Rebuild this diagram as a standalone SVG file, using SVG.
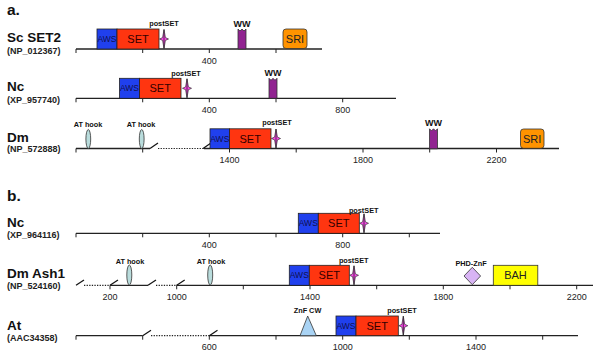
<svg xmlns="http://www.w3.org/2000/svg" width="600" height="357" viewBox="0 0 600 357">
<style>
text{font-family:"Liberation Sans",Arial,sans-serif;fill:#111}
.sec{font-size:15.5px;font-weight:bold}
.name{font-size:13.5px;font-weight:bold}
.acc{font-size:9px;font-weight:bold;fill:#222}
.num{font-size:9px;text-anchor:middle;fill:#222}
.ftl{font-size:7.3px;font-weight:bold;text-anchor:middle}
.wwl{font-size:9px;font-weight:bold;text-anchor:middle}
.axis{stroke:#222;stroke-width:1.3;fill:none}
.dot{stroke:#222;stroke-width:1.2;stroke-dasharray:1.3 1.3;fill:none}
.tick{stroke:#222;stroke-width:1}
.sl{stroke:#111;stroke-width:1.2}
.aws{fill:#2040ee;stroke:#222;stroke-width:0.8}
.set{fill:#ff3510;stroke:#222;stroke-width:0.8}
.awst{font-size:8.5px;fill:#101050;text-anchor:middle}
.sett{font-size:11px;fill:#300;text-anchor:middle}
.star{fill:#ff44ee;stroke:#333;stroke-width:0.7}
.ww{fill:#912391;stroke:#333;stroke-width:0.8}
.sri{fill:#ff9300;stroke:#333;stroke-width:0.8}
.domt{font-size:11px;fill:#222;text-anchor:middle}
.at{fill:#b9dcdc;stroke:#333;stroke-width:0.8}
</style>
<defs>
<g id="star"><path class="star" d="M0,-9.5 L1.4,-1.4 L4.5,0 L1.4,1.4 L0,9.5 L-1.4,1.4 L-4.5,0 L-1.4,-1.4 Z"/><line x1="0" y1="-9.5" x2="0" y2="9.5" stroke="#222" stroke-width="0.8"/></g>
<path id="ww" d="M0,20 L0,0 L2,2 L4,0 L6,2 L8,0 L8,20 Z"/>
</defs>

<text class="sec" x="7" y="15">a.</text>
<text class="sec" x="7" y="201">b.</text>

<g id="sc-set2">
<text class="name" x="7" y="42">Sc SET2</text>
<text class="acc" x="7" y="54">(NP_012367)</text>
<line class="axis" x1="76" y1="49" x2="322" y2="49"/>
<g class="tick"><line x1="76" y1="49" x2="76" y2="53"/><line x1="142.7" y1="49" x2="142.7" y2="53"/><line x1="209.3" y1="49" x2="209.3" y2="53"/><line x1="276" y1="49" x2="276" y2="53"/></g>
<text class="num" x="209.3" y="63.5">400</text>
<rect class="aws" x="97" y="29" width="20" height="20"/><text class="awst" x="107" y="42">AWS</text>
<rect class="set" x="117" y="29" width="42" height="20"/><text class="sett" x="138" y="43">SET</text>
<use href="#star" x="164" y="39"/>
<text class="ftl" x="164" y="26">postSET</text>
<use href="#ww" class="ww" x="238" y="29"/>
<text class="wwl" x="242" y="26.5">WW</text>
<rect class="sri" x="283" y="29" width="24" height="19.5" rx="3"/><text class="domt" x="295" y="42.5">SRI</text>
</g>

<g id="nc-a">
<text class="name" x="7" y="91">Nc</text>
<text class="acc" x="7" y="102.5">(XP_957740)</text>
<line class="axis" x1="76" y1="98.3" x2="396" y2="98.3"/>
<g class="tick"><line x1="76" y1="98.3" x2="76" y2="102.3"/><line x1="142.7" y1="98.3" x2="142.7" y2="102.3"/><line x1="209.3" y1="98.3" x2="209.3" y2="102.3"/><line x1="276" y1="98.3" x2="276" y2="102.3"/><line x1="342.7" y1="98.3" x2="342.7" y2="102.3"/></g>
<text class="num" x="209.3" y="112.5">400</text>
<text class="num" x="342.7" y="112.5">800</text>
<rect class="aws" x="119.5" y="78.3" width="20" height="20"/><text class="awst" x="129.5" y="91.3">AWS</text>
<rect class="set" x="139.5" y="78.3" width="41.5" height="20"/><text class="sett" x="160.2" y="92.3">SET</text>
<use href="#star" x="187" y="88.3"/>
<text class="ftl" x="186" y="75.5">postSET</text>
<use href="#ww" class="ww" x="269" y="78.3"/>
<text class="wwl" x="273" y="76">WW</text>
</g>

<g id="dm-a">
<text class="name" x="7" y="141.7">Dm</text>
<text class="acc" x="7" y="152">(NP_572888)</text>
<line class="axis" x1="76" y1="148.5" x2="150" y2="148.5"/>
<line class="dot" x1="158" y1="148.5" x2="204" y2="148.5"/>
<line class="axis" x1="204" y1="148.5" x2="559" y2="148.5"/>
<line class="sl" x1="150" y1="148.5" x2="158" y2="143"/>
<line class="sl" x1="203" y1="148.5" x2="211" y2="143"/>
<g class="tick"><line x1="76" y1="148.5" x2="76" y2="152.5"/><line x1="142.7" y1="148.5" x2="142.7" y2="152.5"/><line x1="229.5" y1="148.5" x2="229.5" y2="152.5"/><line x1="296.2" y1="148.5" x2="296.2" y2="152.5"/><line x1="363" y1="148.5" x2="363" y2="152.5"/><line x1="429.7" y1="148.5" x2="429.7" y2="152.5"/><line x1="496.5" y1="148.5" x2="496.5" y2="152.5"/></g>
<text class="num" x="229.5" y="163">1400</text>
<text class="num" x="363" y="163">1800</text>
<text class="num" x="496.5" y="163">2200</text>
<ellipse class="at" cx="88.3" cy="139" rx="2.4" ry="9.5"/>
<text class="ftl" x="88" y="126.5">AT hook</text>
<ellipse class="at" cx="141.7" cy="139" rx="2.4" ry="9.5"/>
<text class="ftl" x="141" y="126.5">AT hook</text>
<rect class="aws" x="210" y="128.8" width="19.5" height="19.7"/><text class="awst" x="219.8" y="141.8">AWS</text>
<rect class="set" x="229.5" y="128.8" width="41.5" height="19.7"/><text class="sett" x="250.2" y="142.8">SET</text>
<use href="#star" x="276" y="138.5"/>
<text class="ftl" x="277" y="125">postSET</text>
<use href="#ww" class="ww" x="429.5" y="128.8"/>
<text class="wwl" x="433.5" y="125.5">WW</text>
<rect class="sri" x="520.5" y="129" width="23.5" height="19.3" rx="3"/><text class="domt" x="532.2" y="142.5">SRI</text>
</g>

<g id="nc-b">
<text class="name" x="7" y="226.7">Nc</text>
<text class="acc" x="7" y="238">(XP_964116)</text>
<line class="axis" x1="76" y1="233.3" x2="440" y2="233.3"/>
<g class="tick"><line x1="76" y1="233.3" x2="76" y2="237.3"/><line x1="142.7" y1="233.3" x2="142.7" y2="237.3"/><line x1="209.3" y1="233.3" x2="209.3" y2="237.3"/><line x1="276" y1="233.3" x2="276" y2="237.3"/><line x1="342.7" y1="233.3" x2="342.7" y2="237.3"/><line x1="409.3" y1="233.3" x2="409.3" y2="237.3"/></g>
<text class="num" x="209.3" y="248">400</text>
<text class="num" x="342.7" y="248">800</text>
<rect class="aws" x="298.3" y="213.3" width="20" height="20"/><text class="awst" x="308.3" y="226.3">AWS</text>
<rect class="set" x="318.3" y="213.3" width="41" height="20"/><text class="sett" x="338.8" y="227.3">SET</text>
<use href="#star" x="364" y="223.3"/>
<text class="ftl" x="363.7" y="212.5">postSET</text>
</g>

<g id="dm-ash1">
<text class="name" x="7" y="277.5">Dm Ash1</text>
<text class="acc" x="7" y="289">(NP_524160)</text>
<line class="dot" x1="84" y1="285.3" x2="110" y2="285.3"/>
<line class="axis" x1="110" y1="285.3" x2="148" y2="285.3"/>
<line class="dot" x1="156" y1="285.3" x2="177" y2="285.3"/>
<line class="axis" x1="176.7" y1="285.3" x2="593" y2="285.3"/>
<line class="sl" x1="76" y1="285.3" x2="84" y2="280"/>
<line class="sl" x1="110" y1="285.3" x2="118" y2="280"/>
<line class="sl" x1="148" y1="285.3" x2="156" y2="280"/>
<line class="sl" x1="176.7" y1="285.3" x2="184.7" y2="280"/>
<g class="tick"><line x1="110" y1="285.3" x2="110" y2="289.3"/><line x1="176.7" y1="285.3" x2="176.7" y2="289.3"/><line x1="243.3" y1="285.3" x2="243.3" y2="289.3"/><line x1="310" y1="285.3" x2="310" y2="289.3"/><line x1="376.7" y1="285.3" x2="376.7" y2="289.3"/><line x1="443.3" y1="285.3" x2="443.3" y2="289.3"/><line x1="510" y1="285.3" x2="510" y2="289.3"/><line x1="576.7" y1="285.3" x2="576.7" y2="289.3"/></g>
<text class="num" x="110" y="300">200</text>
<text class="num" x="176.7" y="300">1000</text>
<text class="num" x="310" y="300">1400</text>
<text class="num" x="443.3" y="300">1800</text>
<text class="num" x="576.7" y="300">2200</text>
<ellipse class="at" cx="129.3" cy="275" rx="2.5" ry="10"/>
<text class="ftl" x="130" y="263.5">AT hook</text>
<ellipse class="at" cx="210.2" cy="275" rx="2.5" ry="10"/>
<text class="ftl" x="211" y="263.5">AT hook</text>
<rect class="aws" x="289.3" y="265.3" width="20" height="20"/><text class="awst" x="299.3" y="278.3">AWS</text>
<rect class="set" x="309.3" y="265.3" width="40" height="20"/><text class="sett" x="329.3" y="279.3">SET</text>
<use href="#star" x="354" y="275.3"/>
<text class="ftl" x="353.7" y="263.3">postSET</text>
<path d="M472.3,267.3 L480.6,276 L472.3,284.7 L464,276 Z" fill="#d8b4f4" stroke="#333" stroke-width="0.8"/>
<text class="ftl" x="471" y="265.8">PHD-ZnF</text>
<rect x="493.3" y="265.3" width="44.5" height="20" fill="#ffff00" stroke="#333" stroke-width="0.8"/>
<text class="domt" x="515.5" y="279.3">BAH</text>
</g>

<g id="at">
<text class="name" x="7" y="330">At</text>
<text class="acc" x="7" y="341">(AAC34358)</text>
<line class="axis" x1="76" y1="335.7" x2="142.7" y2="335.7"/>
<line class="dot" x1="151" y1="335.7" x2="209.3" y2="335.7"/>
<line class="axis" x1="209.3" y1="335.7" x2="578" y2="335.7"/>
<line class="sl" x1="142.7" y1="335.7" x2="151" y2="330.3"/>
<line class="sl" x1="209.3" y1="335.7" x2="217.5" y2="330.3"/>
<g class="tick"><line x1="76" y1="335.7" x2="76" y2="339.7"/><line x1="142.7" y1="335.7" x2="142.7" y2="339.7"/><line x1="209.3" y1="335.7" x2="209.3" y2="339.7"/><line x1="276" y1="335.7" x2="276" y2="339.7"/><line x1="342.7" y1="335.7" x2="342.7" y2="339.7"/><line x1="409.3" y1="335.7" x2="409.3" y2="339.7"/><line x1="476" y1="335.7" x2="476" y2="339.7"/><line x1="542.7" y1="335.7" x2="542.7" y2="339.7"/></g>
<text class="num" x="209.3" y="350">600</text>
<text class="num" x="342.7" y="350">1000</text>
<text class="num" x="476" y="350">1400</text>
<path d="M307.7,316 L316.3,335.7 L300,335.7 Z" fill="#a9d3f4" stroke="#333" stroke-width="0.8"/>
<text class="ftl" x="307.5" y="312.7">ZnF CW</text>
<rect class="aws" x="336" y="316" width="20" height="19.7"/><text class="awst" x="346" y="329">AWS</text>
<rect class="set" x="356" y="316" width="42.3" height="19.7"/><text class="sett" x="377.2" y="330">SET</text>
<use href="#star" x="403.3" y="325.7"/>
<text class="ftl" x="402" y="312.7">postSET</text>
</g>
</svg>
